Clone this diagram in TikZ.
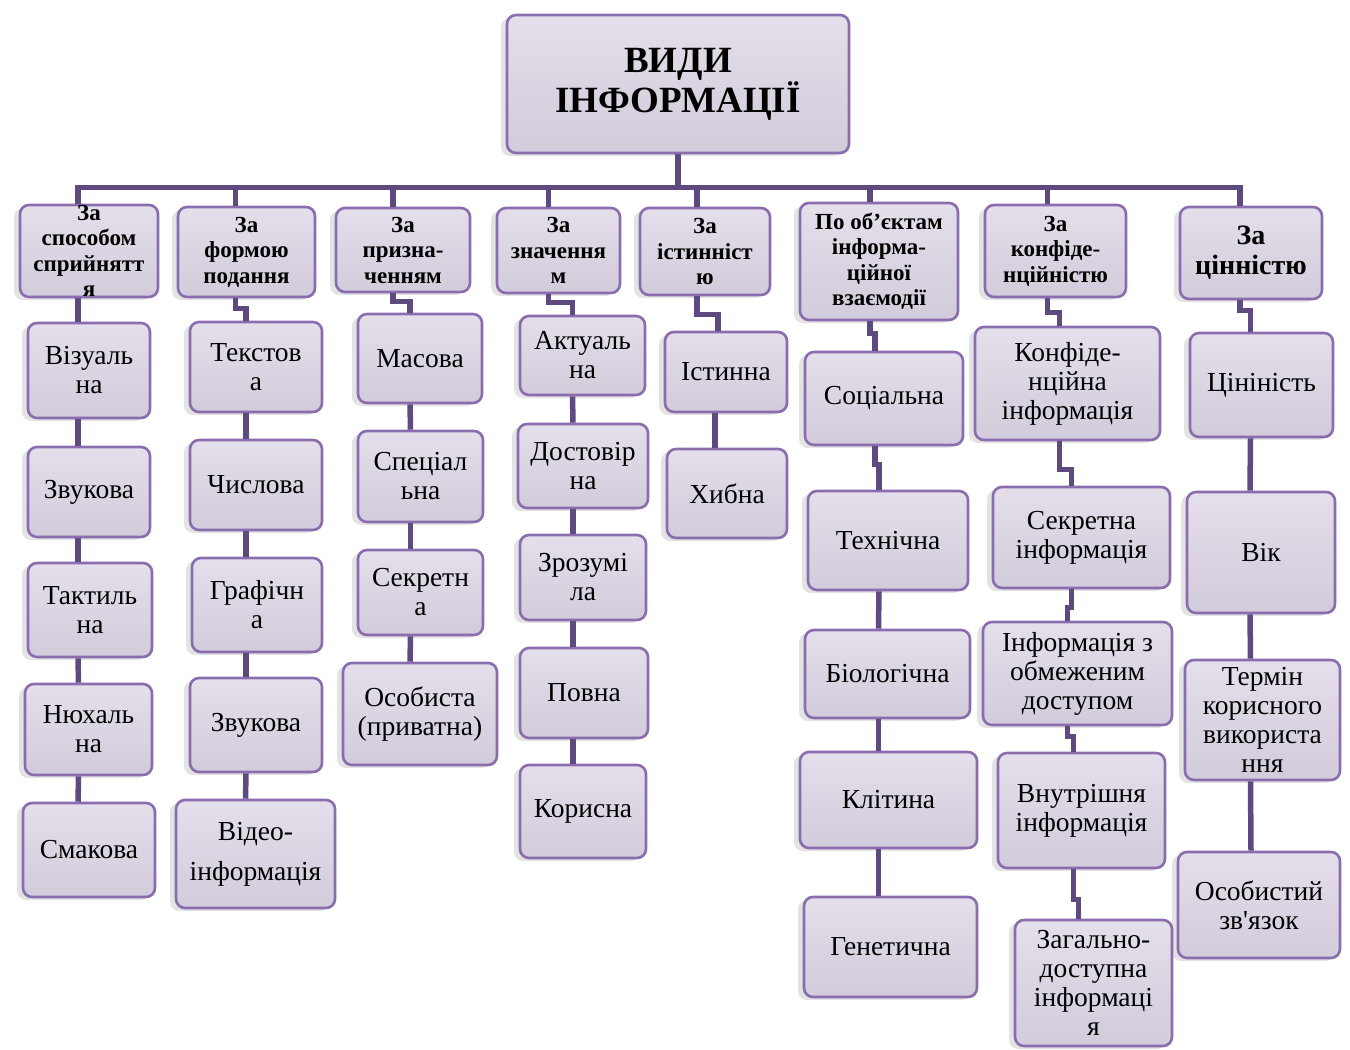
\documentclass[tikz,border=0pt]{standalone}
\usepackage{fontspec}
\setmainfont{Liberation Serif}[Ligatures=TeXOff]
\usepackage{xcolor}
\definecolor{VLine}{HTML}{8A6DAE}
\definecolor{VLink}{HTML}{5F4A80}
\definecolor{VTop}{HTML}{E4DFEA}
\definecolor{VBot}{HTML}{D2CBDB}
\usetikzlibrary{shadows}

\begin{document}
\begin{tikzpicture}[
  x=1pt, y=-1pt,
  vbox/.style={rounded corners=9pt, draw=VLine, line width=2.6pt, top color=VTop, bottom color=VBot,
    drop shadow={shadow xshift=-6pt, shadow yshift=-3pt, opacity=0.22},
    align=center, inner sep=0pt},
  title/.style={vbox, minimum width=342pt, minimum height=138pt, font=\fontsize{37}{40}\selectfont\bfseries},
  cat/.style={vbox, font=\fontsize{23}{25.5}\selectfont\bfseries},
  item/.style={vbox, font=\fontsize{27.5}{29}\selectfont},
  link/.style={draw=VLink, line width=5.5pt},
]
\useasboundingbox (0,0) rectangle (1350,1050);

\node[title] (top) at (678,84) {ВИДИ\\ІНФОРМАЦІЇ};

% categories
\node[cat, minimum width=138pt, minimum height=92pt] (c1) at (89,251) {За\\способом\\сприйнятт\\я};
\node[cat, minimum width=137pt, minimum height=90pt] (c2) at (246.5,252) {За\\формою\\подання};
\node[cat, minimum width=134pt, minimum height=84pt] (c3) at (403,250) {За\\призна-\\ченням};
\node[cat, minimum width=123pt, minimum height=85pt] (c4) at (558.5,250.5) {За\\значення\\м};
\node[cat, minimum width=130pt, minimum height=87pt] (c5) at (705,251.5) {За\\істинніст\\ю};
\node[cat, minimum width=158pt, minimum height=117pt] (c6) at (879,261.5) {По об’єктам\\інформа-\\ційної\\взаємодії};
\node[cat, minimum width=141pt, minimum height=92pt] (c7) at (1055.5,251) {За\\конфіде-\\нційністю};
\node[cat, minimum width=142pt, minimum height=92pt, font=\fontsize{28}{30}\selectfont\bfseries] (c8) at (1251,253) {За\\цінністю};

% column 1
\node[item, minimum width=122pt, minimum height=95pt] (v1) at (89,370.5) {Візуаль\\на};
\node[item, minimum width=122pt, minimum height=90pt] (v2) at (89,492) {Звукова};
\node[item, minimum width=124pt, minimum height=94pt] (v3) at (90,610) {Тактиль\\на};
\node[item, minimum width=127pt, minimum height=91pt] (v4) at (88.5,729.5) {Нюхаль\\на};
\node[item, minimum width=132pt, minimum height=94pt] (v5) at (89,850) {Смакова};

% column 2
\node[item, minimum width=132pt, minimum height=90pt] (f1) at (256,367) {Текстов\\а};
\node[item, minimum width=132pt, minimum height=90pt] (f2) at (256,485) {Числова};
\node[item, minimum width=130pt, minimum height=94pt] (f3) at (257,605) {Графічн\\а};
\node[item, minimum width=132pt, minimum height=94pt] (f4) at (256,725) {Звукова};
\node[item, minimum width=159pt, minimum height=108pt, font=\fontsize{27.5}{40}\selectfont] (f5) at (255.5,854) {Відео-\\інформація};

% column 3
\node[item, minimum width=124pt, minimum height=89pt] (p1) at (420,358.5) {Масова};
\node[item, minimum width=125pt, minimum height=91pt] (p2) at (420.5,476.5) {Спеціал\\ьна};
\node[item, minimum width=125pt, minimum height=85pt] (p3) at (420.5,592.5) {Секретн\\а};
\node[item, minimum width=154pt, minimum height=102pt] (p4) at (420,714) {Особиста\\(приватна)};

% column 4
\node[item, minimum width=125pt, minimum height=79pt] (z1) at (582.5,355.5) {Актуаль\\на};
\node[item, minimum width=130pt, minimum height=84pt] (z2) at (583,466) {Достовір\\на};
\node[item, minimum width=126pt, minimum height=85pt] (z3) at (583,577.5) {Зрозумі\\ла};
\node[item, minimum width=128pt, minimum height=90pt] (z4) at (584,693) {Повна};
\node[item, minimum width=126pt, minimum height=93pt] (z5) at (583,811.5) {Корисна};

% column 5
\node[item, minimum width=122pt, minimum height=80pt] (i1) at (726,372) {Істинна};
\node[item, minimum width=120pt, minimum height=89pt] (i2) at (727,493.5) {Хибна};

% column 6
\node[item, minimum width=158pt, minimum height=93pt] (o1) at (884,398.5) {Соціальна};
\node[item, minimum width=160pt, minimum height=99pt] (o2) at (888,540.5) {Технічна};
\node[item, minimum width=165pt, minimum height=88pt] (o3) at (887.5,674) {Біологічна};
\node[item, minimum width=177pt, minimum height=96pt] (o4) at (888.5,800) {Клітина};
\node[item, minimum width=173pt, minimum height=100pt] (o5) at (890.5,947) {Генетична};

% column 7
\node[item, minimum width=185pt, minimum height=113pt] (k1) at (1067.5,383.5) {Конфіде-\\нційна\\інформація};
\node[item, minimum width=177pt, minimum height=101pt] (k2) at (1081.5,537.5) {Секретна\\інформація};
\node[item, minimum width=189pt, minimum height=103pt] (k3) at (1077.5,673.5) {Інформація з\\обмеженим\\доступом};
\node[item, minimum width=167pt, minimum height=115pt] (k4) at (1081.5,810.5) {Внутрішня\\інформація};
\node[item, minimum width=157pt, minimum height=126pt] (k5) at (1093.5,983) {Загально-\\доступна\\інформаці\\я};

% column 8
\node[item, minimum width=143pt, minimum height=104pt] (n1) at (1261.5,385) {Цініність};
\node[item, minimum width=148pt, minimum height=121pt] (n2) at (1261,552.5) {Вік};
\node[item, minimum width=155pt, minimum height=120pt] (n3) at (1262.5,720) {Термін\\корисного\\використа\\ння};
\node[item, minimum width=162pt, minimum height=106pt] (n4) at (1259,905) {Особистий\\зв'язок};

% bus from the title
\draw[link] (top.south) -- ++(0,33) -| ([xshift=-11pt]c1.north);
\draw[link] (top.south) -- ++(0,33) -| ([xshift=-11pt]c8.north);
\draw[link] (top.south) -- ++(0,33) -| ([xshift=-11pt]c2.north);
\draw[link] (top.south) -- ++(0,33) -| ([xshift=-10pt]c3.north);
\draw[link] (top.south) -- ++(0,33) -| ([xshift=-10pt]c4.north);
\draw[link] (top.south) -- ++(0,33) -| ([xshift=-8pt]c5.north);
\draw[link] (top.south) -- ++(0,33) -| ([xshift=-9pt]c6.north);
\draw[link] (top.south) -- ++(0,33) -| ([xshift=-8pt]c7.north);

% column links
\draw[link] ([xshift=-11pt]c1.south) -- ([xshift=-11pt]v1.north);
\draw[link] ([xshift=-11pt]v1.south) -- ([xshift=-11pt]v2.north);
\draw[link] ([xshift=-11pt]v2.south) -- ([xshift=-12pt]v3.north);
\draw[link] ([xshift=-12pt]v3.south) -- ([xshift=-10pt]v4.north);
\draw[link] ([xshift=-10pt]v4.south) -- ([xshift=-11pt]v5.north);

\draw[link] ([xshift=-11pt]c2.south) -- ++(0,10) -| ([xshift=-10pt]f1.north);
\draw[link] ([xshift=-10pt]f1.south) -- ([xshift=-10pt]f2.north);
\draw[link] ([xshift=-10pt]f2.south) -- ([xshift=-11pt]f3.north);
\draw[link] ([xshift=-11pt]f3.south) -- ([xshift=-10pt]f4.north);
\draw[link] ([xshift=-10pt]f4.south) -- ([xshift=-10pt]f5.north);

\draw[link] ([xshift=-10pt]c3.south) -- ++(0,8) -| ([xshift=-10pt]p1.north);
\draw[link] ([xshift=-10pt]p1.south) -- ([xshift=-10pt]p2.north);
\draw[link] ([xshift=-10pt]p2.south) -- ([xshift=-10pt]p3.north);
\draw[link] ([xshift=-10pt]p3.south) -- ([xshift=-10pt]p4.north);

\draw[link] ([xshift=-10pt]c4.south) -- ++(0,8) -| ([xshift=-10pt]z1.north);
\draw[link] ([xshift=-10pt]z1.south) -- ([xshift=-10pt]z2.north);
\draw[link] ([xshift=-10pt]z2.south) -- ([xshift=-10pt]z3.north);
\draw[link] ([xshift=-10pt]z3.south) -- ([xshift=-11pt]z4.north);
\draw[link] ([xshift=-11pt]z4.south) -- ([xshift=-10pt]z5.north);

\draw[link] ([xshift=-8pt]c5.south) -- ++(0,18) -| ([xshift=-8pt]i1.north);
\draw[link] ([xshift=-11pt]i1.south) -- ([xshift=-12pt]i2.north);

\draw[link] ([xshift=-9pt]c6.south) -- ++(0,12) -| ([xshift=-9pt]o1.north);
\draw[link] ([xshift=-9pt]o1.south) -- ++(0,18) -| ([xshift=-9pt]o2.north);
\draw[link] ([xshift=-9pt]o2.south) -- ([xshift=-9pt]o3.north);
\draw[link] ([xshift=-9pt]o3.south) -- ([xshift=-10pt]o4.north);
\draw[link] ([xshift=-10pt]o4.south) -- ([xshift=-12pt]o5.north);

\draw[link] ([xshift=-8pt]c7.south) -- ++(0,14) -| ([xshift=-8pt]k1.north);
\draw[link] ([xshift=-8pt]k1.south) -- ++(0,28) -| ([xshift=-10pt]k2.north);
\draw[link] ([xshift=-10pt]k2.south) -- ++(0,18) -| ([xshift=-10pt]k3.north);
\draw[link] ([xshift=-10pt]k3.south) -- ++(0,10) -| ([xshift=-8pt]k4.north);
\draw[link] ([xshift=-8pt]k4.south) -- ++(0,30) -| ([xshift=-15pt]k5.north);

\draw[link] ([xshift=-11pt]c8.south) -- ++(0,10) -| ([xshift=-11pt]n1.north);
\draw[link] ([xshift=-11pt]n1.south) -- ([xshift=-11pt]n2.north);
\draw[link] ([xshift=-11pt]n2.south) -- ([xshift=-12pt]n3.north);
\draw[link] ([xshift=-12pt]n3.south) -- ([xshift=-8pt]n4.north);
\end{tikzpicture}
\end{document}
